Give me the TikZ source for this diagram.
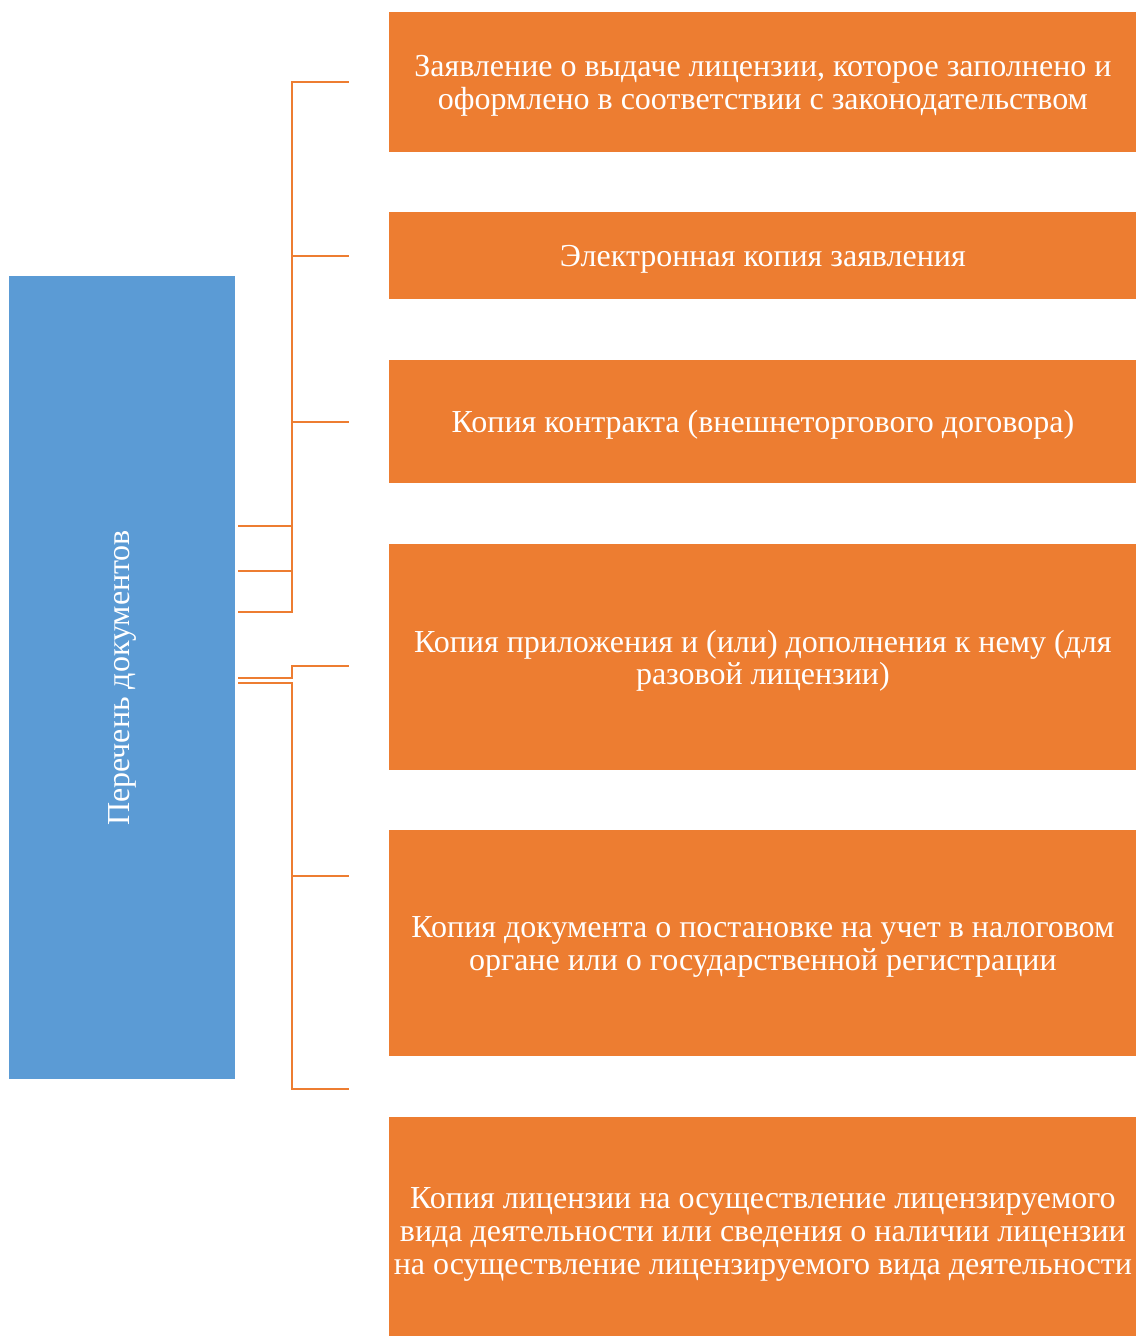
\documentclass[tikz,border=0pt]{standalone}
\usepackage{fontspec}
\setmainfont{Liberation Serif}
\usetikzlibrary{positioning}
\definecolor{docblue}{HTML}{5B9BD5}
\definecolor{docorange}{HTML}{ED7D31}
\newcommand{\topstrut}{\rule{0pt}{14.5pt}}

\begin{document}
\begin{tikzpicture}[x=0.5pt,y=-0.5pt]
\tikzstyle{every node}+=[inner sep=0pt]
\tikzstyle{item}=[fill=docorange, text=white, align=center, anchor=north west, minimum width=373.5pt, font=\fontsize{16}{16.5}\selectfont]
\tikzstyle{link}=[draw=docorange, line width=1pt]
\useasboundingbox (0,0) rectangle (1136,1336);
\node [fill=docblue, text=white, anchor=north west, minimum width=113pt, minimum height=401.5pt, font=\fontsize{16}{16.5}\selectfont] (docs) at (9,276) {\rotatebox{90}{Перечень документов}};
\node [item, minimum height=70pt] (d1) at (389,12) {\topstrut Заявление о выдаче лицензии, которое заполнено и\\оформлено в соответствии с законодательством};
\node [item, minimum height=43.5pt] (d2) at (389,212) {\topstrut Электронная копия заявления};
\node [item, minimum height=61.5pt] (d3) at (389,360) {\topstrut Копия контракта (внешнеторгового договора)};
\node [item, minimum height=113pt] (d4) at (389,544) {\topstrut Копия приложения и (или) дополнения к нему (для\\разовой лицензии)};
\node [item, minimum height=113pt] (d5) at (389,830) {\topstrut Копия документа о постановке на учет в налоговом\\органе или о государственной регистрации};
\node [item, minimum height=113pt] (d6) at (389,1117) {\topstrut Копия лицензии на осуществление лицензируемого\\вида деятельности или сведения о наличии лицензии\\на осуществление лицензируемого вида деятельности};
% connector ends
\coordinate (j) at (292,0);
\coordinate (s1) at (238,526);
\coordinate (s2) at (238,571);
\coordinate (s3) at (238,612);
\coordinate (s4) at (238,678);
\coordinate (s5) at (238,683);
\coordinate (e1) at (349,82);
\coordinate (e2) at (349,256);
\coordinate (e3) at (349,422);
\coordinate (e4) at (349,666);
\coordinate (e5) at (349,876);
\coordinate (e6) at (349,1089);
\draw [link] (s1) -| (j |- e1) -- (e1);
\draw [link] (s2) -| (j |- e2) -- (e2);
\draw [link] (s3) -| (j |- e3) -- (e3);
\draw [link] (s4) -| (j |- e4) -- (e4);
\draw [link] (s5) -| (j |- e5) -- (e5);
\draw [link] (s5) -| (j |- e6) -- (e6);
\end{tikzpicture}
\end{document}
